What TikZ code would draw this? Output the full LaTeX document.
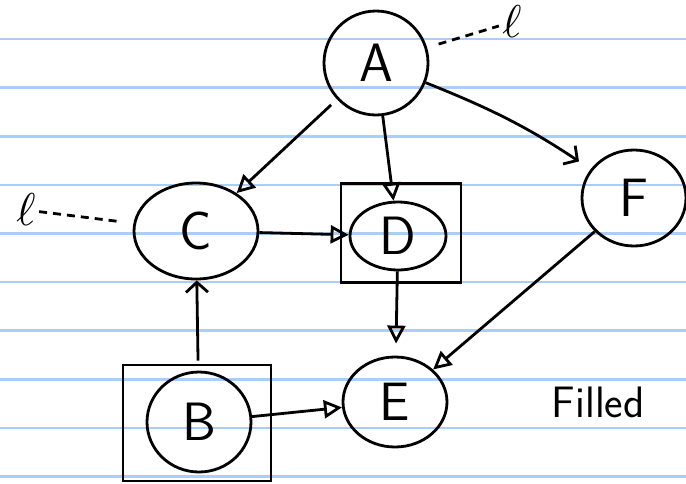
\documentclass[tikz,border=0pt]{standalone}
\usetikzlibrary{arrows.meta,shapes.geometric,positioning}
\definecolor{rigablu}{RGB}{170,206,248}

\begin{document}
\begin{tikzpicture}[
	x=1pt,y=-1pt,
	var/.style={draw,ellipse,line width=2.8pt,inner sep=0pt,font=\fontsize{54}{54}\sffamily},
	obsbox/.style={draw,rectangle,line width=2.8pt},
	arc/.style={-{Triangle[open,length=18pt,width=18pt]},line width=2.8pt},
	barb/.style={-{Straight Barb[length=10pt,width=22pt]},line width=2.8pt},
	hint/.style={line width=2.8pt,dash pattern=on 8pt off 6pt},
	riga/.style={line width=2.6pt,rigablu}
	]
	
	\useasboundingbox (0,0) rectangle (686,483);
	% Righe
	\foreach \i in {0,...,9}
		\draw[riga] (0,39+48.6*\i) -- (686,39+48.6*\i);
	
	% Nodi
	\node[var,minimum width=104,minimum height=104] (A) at (376,63) {A};
	\node[var,minimum width=124,minimum height=96] (C) at (196,231) {C};
	\node[var,minimum width=96,minimum height=68] (D) at (398,236) {D};
	\node[obsbox,minimum width=120,minimum height=99] (Dbox) at (401,233) {};
	\node[var,minimum width=104,minimum height=96] (F) at (634,198) {F};
	\node[var,minimum width=104,minimum height=100] (B) at (199,422) {B};
	\node[obsbox,minimum width=148,minimum height=116] (Bbox) at (197,423) {};
	\node[var,minimum width=104,minimum height=90] (E) at (395,402) {E};
	\node[font=\fontsize{44}{44}\sffamily,anchor=west,right=100pt of E] (nota) {Filled};
	\node (lA) at (512,22) {\scalebox{4.6}{$\ell$}};
	\node (lC) at (26,210) {\scalebox{4.6}{$\ell$}};
	
	% Archi
	\draw[hint,shorten <=12pt] (A) -- (lA);
	\draw[hint,shorten >=12pt] (lC) -- (C);
	\draw[arc,shorten <=8pt] (A) -- (C);
	\draw[arc] (A) -- (D);
	\draw[barb,shorten >=14pt] (A) to[bend left=6] (F);
	\draw[arc] (C) -- (D);
	\draw[arc,shorten >=12pt] (D) -- (E);
	\draw[arc] (F) -- (E);
	\draw[barb,shorten <=10pt] (B) -- (C);
	\draw[arc] (B) -- (E);
	
\end{tikzpicture}
\end{document}
